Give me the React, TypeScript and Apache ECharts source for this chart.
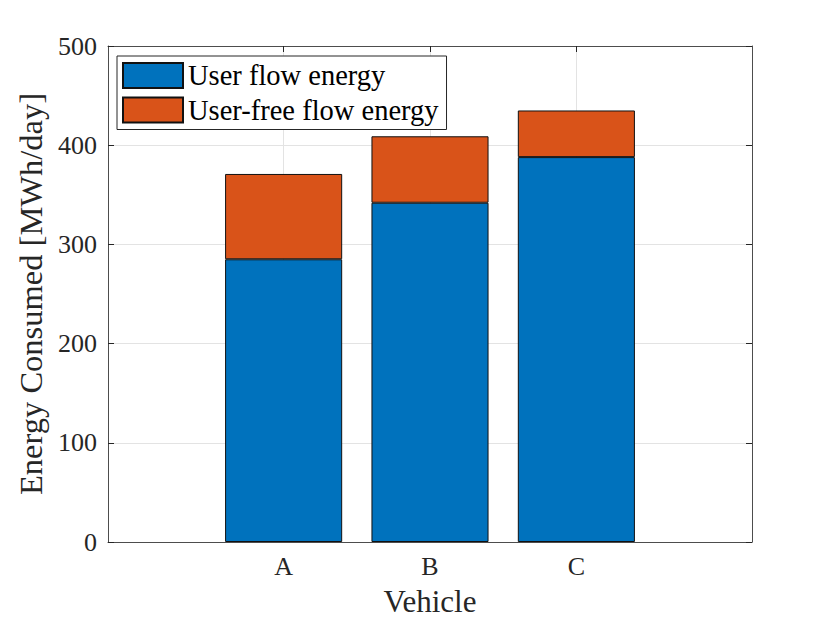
import React, { useEffect, useRef } from "react";
import * as echarts from "echarts";

const categories = ["A", "B", "C"];
const categoryPositions = [1, 2, 3];
const userFlowEnergy = [285, 342, 388];
const userFreeFlowEnergy = [86, 67, 47];
const seriesNames = ["User flow energy", "User-free flow energy"];
const yTicks = { min: 0, max: 500, interval: 100 };

const FONT = "'Liberation Serif', 'DejaVu Serif', serif";
const AXIS_COLOR = "#4d4d4d";
const TICK_COLOR = "#262626";

export default function App() {
  const ref = useRef<HTMLDivElement>(null);

  useEffect(() => {
    document.body.style.margin = "0";
    if (!ref.current) return;
    const chart = echarts.init(ref.current, null, { renderer: "svg" });

    const labelFor = (v: number) => {
      const i = categoryPositions.indexOf(Math.round(v));
      return i >= 0 ? categories[i] : "";
    };

    const baseX = {
      type: "value",
      min: -0.2,
      max: 4.2,
      axisLine: { show: true, onZero: false, lineStyle: { color: AXIS_COLOR, width: 1 } },
      axisTick: {
        show: true,
        inside: true,
        length: 6,
        customValues: categoryPositions,
        lineStyle: { color: TICK_COLOR, width: 1 },
      },
    };

    const baseY = {
      type: "value",
      min: yTicks.min,
      max: yTicks.max,
      interval: yTicks.interval,
      axisLine: { show: true, onZero: false, lineStyle: { color: AXIS_COLOR, width: 1 } },
      axisTick: { show: true, inside: true, length: 6, lineStyle: { color: TICK_COLOR, width: 1 } },
    };

    const option: any = {
      animation: false,
      backgroundColor: "#ffffff",
      grid: {
        left: 108,
        top: 46,
        right: 78,
        bottom: 81,
        containLabel: false,
        outerBoundsMode: "none",
      },
      legend: {
        orient: "vertical",
        left: 117,
        top: 56,
        itemWidth: 60,
        itemHeight: 25,
        itemGap: 5.5,
        padding: [5, 8, 5, 5],
        backgroundColor: "#ffffff",
        borderColor: "#262626",
        borderWidth: 1,
        borderRadius: 0,
        icon: "rect",
        data: seriesNames,
        textStyle: { fontFamily: FONT, fontSize: 28.5, color: "#000", lineHeight: 25 },
      },
      xAxis: [
        {
          ...baseX,
          position: "bottom",
          name: "Vehicle",
          nameLocation: "middle",
          nameGap: 44,
          nameTextStyle: { fontFamily: FONT, fontSize: 31, color: "#262626" },
          axisLabel: {
            show: true,
            customValues: categoryPositions,
            formatter: (v: number) => labelFor(v),
            margin: 11,
            fontFamily: FONT,
            fontSize: 26,
            color: "#262626",
          },
          splitLine: { show: true, lineStyle: { color: "#e3e3e3", width: 1 } },
        },
        {
          ...baseX,
          position: "top",
          axisLabel: { show: false },
          splitLine: { show: false },
        },
      ],
      yAxis: [
        {
          ...baseY,
          position: "left",
          name: "Energy Consumed [MWh/day]",
          nameLocation: "middle",
          nameGap: 58,
          nameTextStyle: { fontFamily: FONT, fontSize: 32.5, color: "#262626" },
          axisLabel: { margin: 11, fontFamily: FONT, fontSize: 26, color: "#262626" },
          splitLine: { show: true, lineStyle: { color: "#e3e3e3", width: 1 } },
        },
        {
          ...baseY,
          position: "right",
          axisLabel: { show: false },
          splitLine: { show: false },
        },
      ],
      series: [
        {
          name: seriesNames[0],
          type: "bar",
          stack: "total",
          barWidth: "80%",
          xAxisIndex: 0,
          yAxisIndex: 0,
          encode: { x: 1, y: 0 },
          itemStyle: { color: "#0072BD", borderColor: "#111111", borderWidth: 1 },
          data: categoryPositions.map((x, i) => [userFlowEnergy[i], x]),
        },
        {
          name: seriesNames[1],
          type: "bar",
          stack: "total",
          barWidth: "80%",
          xAxisIndex: 0,
          yAxisIndex: 0,
          encode: { x: 1, y: 0 },
          itemStyle: { color: "#D95319", borderColor: "#111111", borderWidth: 1 },
          data: categoryPositions.map((x, i) => [userFreeFlowEnergy[i], x]),
        },
      ],
    };

    chart.setOption(option);
    return () => chart.dispose();
  }, []);

  return <div ref={ref} style={{ width: 830, height: 623 }} />;
}
